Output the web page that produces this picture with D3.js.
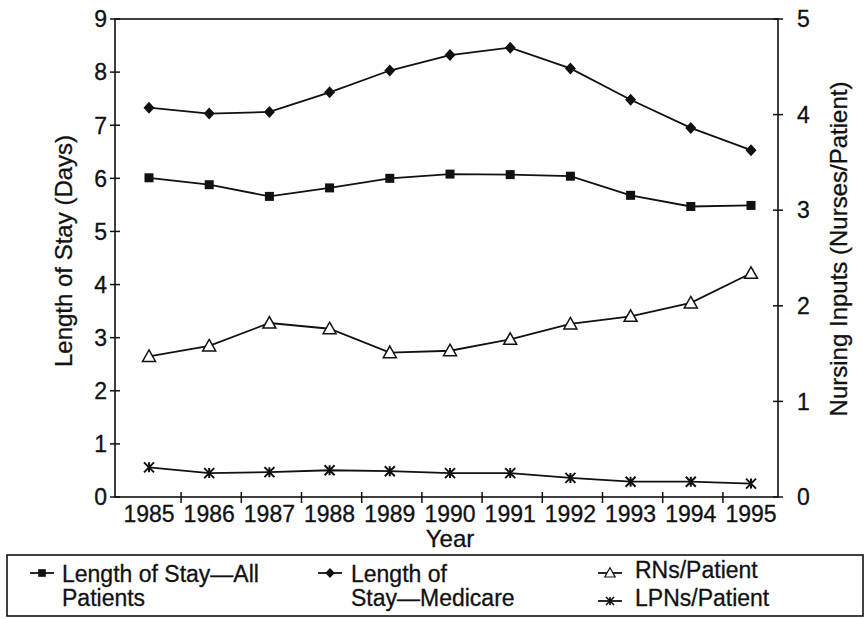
<!DOCTYPE html>
<html>
<head>
<meta charset="utf-8">
<script src="https://cdn.jsdelivr.net/npm/d3@7.9.0/dist/d3.min.js"></script>
<style>
  body { margin: 0; background: #fff; }
  svg { font-family: "Liberation Sans", Arial, sans-serif; }
  text { fill: #111; stroke: #111; stroke-width: 0.3; }
</style>
</head>
<body>
<svg id="chart" width="865" height="619"></svg>
<script>
const years = [1985, 1986, 1987, 1988, 1989, 1990, 1991, 1992, 1993, 1994, 1995];
const stayAll = [6.01, 5.88, 5.66, 5.82, 6.0, 6.08, 6.07, 6.04, 5.68, 5.47, 5.49];
const stayMedicare = [7.33, 7.22, 7.25, 7.62, 8.03, 8.32, 8.46, 8.07, 7.48, 6.95, 6.53];
const rnsPerPatient = [1.47, 1.58, 1.82, 1.76, 1.51, 1.53, 1.65, 1.81, 1.89, 2.03, 2.34];
const lpnsPerPatient = [0.31, 0.25, 0.26, 0.28, 0.27, 0.25, 0.25, 0.2, 0.16, 0.16, 0.14];
const leftTicks = [0, 1, 2, 3, 4, 5, 6, 7, 8, 9];
const rightTicks = [0, 1, 2, 3, 4, 5];

const svg = d3.select('#chart');
const plotL = 115, plotR = 778, plotT = 19, plotB = 497;
const ink = '#111';

const x = d3.scalePoint().domain(years).range([149, 751]);
const yL = d3.scaleLinear().domain([0, 9]).range([plotB, plotT]);
const yR = d3.scaleLinear().domain([0, 5]).range([plotB, plotT]);

// frame
svg.append('rect')
  .attr('x', plotL).attr('y', plotT)
  .attr('width', plotR - plotL).attr('height', plotB - plotT)
  .attr('fill', 'none').attr('stroke', ink).attr('stroke-width', 1.6);

// left axis
const gL = svg.append('g');
leftTicks.forEach(t => {
  gL.append('line').attr('x1', plotL - 5).attr('x2', plotL + 5)
    .attr('y1', yL(t)).attr('y2', yL(t)).attr('stroke', ink).attr('stroke-width', 1.5);
  gL.append('text').attr('x', 107).attr('y', yL(t)).attr('dy', '0.36em')
    .attr('text-anchor', 'end').attr('font-size', 23).text(t);
});

// right axis
const gR = svg.append('g');
rightTicks.forEach(t => {
  gR.append('line').attr('x1', plotR - 5).attr('x2', plotR + 5)
    .attr('y1', yR(t)).attr('y2', yR(t)).attr('stroke', ink).attr('stroke-width', 1.5);
  gR.append('text').attr('x', 797).attr('y', yR(t)).attr('dy', '0.36em')
    .attr('text-anchor', 'start').attr('font-size', 23).text(t);
});

// bottom axis
const step = x.step();
const gX = svg.append('g');
years.forEach((yr, i) => {
  if (i > 0) {
    const tx = x(yr) - step / 2 + 2;
    gX.append('line').attr('x1', tx).attr('x2', tx)
      .attr('y1', plotB - 5).attr('y2', plotB + 6).attr('stroke', ink).attr('stroke-width', 1.5);
  }
  gX.append('text').attr('x', x(yr)).attr('y', 522)
    .attr('text-anchor', 'middle').attr('font-size', 23).text(yr);
});

// axis titles
svg.append('text').attr('x', 450).attr('y', 547).attr('text-anchor', 'middle')
  .attr('font-size', 24).text('Year');
svg.append('text').attr('transform', 'translate(72,251) rotate(-90)')
  .attr('text-anchor', 'middle').attr('font-size', 24).text('Length of Stay (Days)');
svg.append('text').attr('transform', 'translate(847,249) rotate(-90)')
  .attr('text-anchor', 'middle').attr('font-size', 24).text('Nursing Inputs (Nurses/Patient)');

// marker drawers
const markers = {
  square: (g, cx, cy) => g.append('rect').attr('x', cx - 4.5).attr('y', cy - 4.5)
    .attr('width', 9).attr('height', 9).attr('fill', ink),
  diamond: (g, cx, cy) => g.append('path')
    .attr('d', `M${cx},${cy - 6}L${cx + 5.5},${cy}L${cx},${cy + 6}L${cx - 5.5},${cy}Z`).attr('fill', ink),
  triangle: (g, cx, cy) => g.append('path')
    .attr('d', `M${cx},${cy - 6.5}L${cx + 6.5},${cy + 5}L${cx - 6.5},${cy + 5}Z`)
    .attr('fill', '#fff').attr('stroke', ink).attr('stroke-width', 1.5),
  cross: (g, cx, cy) => g.append('path')
    .attr('d', `M${cx - 5},${cy - 5}L${cx + 5},${cy + 5}M${cx - 5},${cy + 5}L${cx + 5},${cy - 5}M${cx},${cy - 5}L${cx},${cy + 5}`)
    .attr('fill', 'none').attr('stroke', ink).attr('stroke-width', 2)
};

const series = [
  { name: ['Length of Stay\u2014All', 'Patients'], values: stayAll, y: yL, marker: 'square' },
  { name: ['Length of', 'Stay\u2014Medicare'], values: stayMedicare, y: yL, marker: 'diamond' },
  { name: ['RNs/Patient'], values: rnsPerPatient, y: yR, marker: 'triangle' },
  { name: ['LPNs/Patient'], values: lpnsPerPatient, y: yR, marker: 'cross' }
];

series.forEach(s => {
  const line = d3.line().x((d, i) => x(years[i])).y(d => s.y(d));
  svg.append('path').datum(s.values).attr('d', line)
    .attr('fill', 'none').attr('stroke', ink).attr('stroke-width', 1.8);
  const g = svg.append('g');
  s.values.forEach((v, i) => markers[s.marker](g, x(years[i]), s.y(v)));
});

// legend
svg.append('rect').attr('x', 7).attr('y', 555).attr('width', 856).attr('height', 61)
  .attr('fill', 'none').attr('stroke', ink).attr('stroke-width', 1.6);

const legendPos = [
  { lx: 30, ly: 573, tx: 62, base: 582 },
  { lx: 318, ly: 573, tx: 351, base: 582 },
  { lx: 598, ly: 573, tx: 635, base: 578 },
  { lx: 598, ly: 601, tx: 635, base: 606 }
];

series.forEach((s, i) => {
  const p = legendPos[i];
  const g = svg.append('g');
  g.append('line').attr('x1', p.lx).attr('x2', p.lx + 24).attr('y1', p.ly).attr('y2', p.ly)
    .attr('stroke', ink).attr('stroke-width', 1.8);
  const m = i >= 2 ? 0.8 : 0.85;
  const mg = g.append('g').attr('transform', `translate(${p.lx + 12},${p.ly}) scale(${m}) translate(${-(p.lx + 12)},${-p.ly})`);
  markers[s.marker](mg, p.lx + 12, p.ly);
  s.name.forEach((t, j) => {
    g.append('text').attr('x', p.tx).attr('y', p.base + j * 24)
      .attr('font-size', 23).text(t);
  });
});
</script>
</body>
</html>
